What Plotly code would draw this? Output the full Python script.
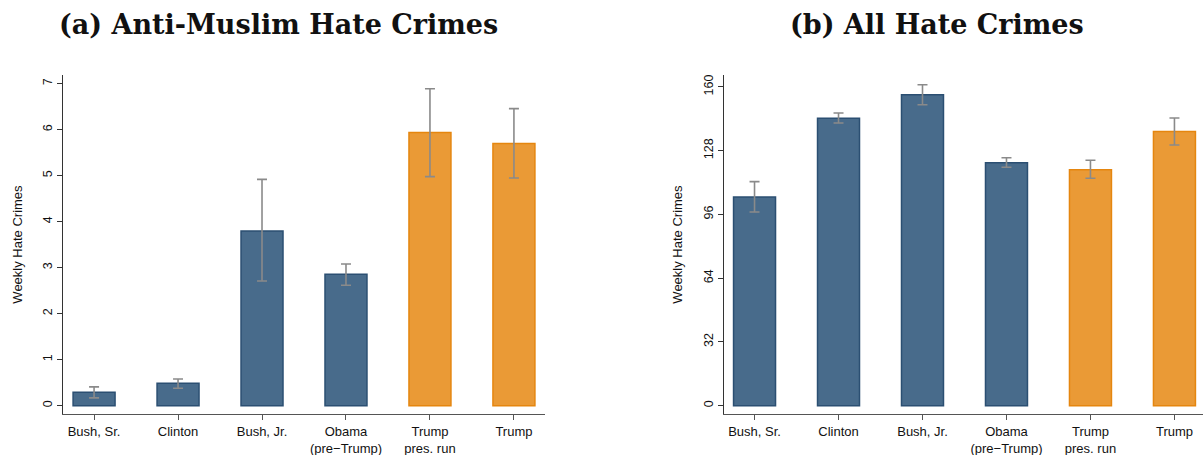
import plotly.graph_objects as go

# Presidency periods shown on the x axis
periods = ["Bush, Sr.", "Clinton", "Bush, Jr.", "Obama<br>(pre\u2212Trump)", "Trump<br>pres. run", "Trump"]
trump_era = [False, False, False, False, True, True]

# (a) Anti-Muslim hate crimes: weekly mean with confidence bounds
muslim_mean = [0.29, 0.49, 3.80, 2.86, 5.94, 5.70]
muslim_upper = [0.41, 0.58, 4.92, 3.08, 6.89, 6.46]
muslim_lower = [0.17, 0.38, 2.71, 2.62, 4.98, 4.95]

# (b) All hate crimes: weekly mean with confidence bounds
all_mean = [104.8, 144.3, 156.1, 122.0, 118.5, 137.6]
all_upper = [112.5, 146.9, 161.1, 124.5, 123.2, 144.4]
all_lower = [97.2, 141.9, 151.1, 119.7, 114.2, 130.9]

# Tick values for the two y axes
muslim_ticks = [0, 1, 2, 3, 4, 5, 6, 7]
all_ticks = [0, 32, 64, 96, 128, 160]

BLUE_FILL, BLUE_LINE = "#486b8b", "#2b4f72"
ORANGE_FILL, ORANGE_LINE = "#ea9a36", "#e5860f"
fills = [ORANGE_FILL if t else BLUE_FILL for t in trump_era]
lines = [ORANGE_LINE if t else BLUE_LINE for t in trump_era]

W, H = 1203, 455
FONT = "Liberation Sans, Arial, sans-serif"


def bar_trace(mean, upper, lower, xa, ya):
    return go.Bar(
        x=list(range(len(periods))),
        y=mean,
        width=0.5,
        marker=dict(color=fills, line=dict(color=lines, width=1.5)),
        error_y=dict(
            type="data",
            symmetric=False,
            array=[u - m for u, m in zip(upper, mean)],
            arrayminus=[m - l for m, l in zip(mean, lower)],
            color="#8a8a8a",
            thickness=1.6,
            width=5,
        ),
        xaxis=xa,
        yaxis=ya,
        showlegend=False,
    )


fig = go.Figure()
fig.add_trace(bar_trace(muslim_mean, muslim_upper, muslim_lower, "x", "y"))
fig.add_trace(bar_trace(all_mean, all_upper, all_lower, "x2", "y2"))

y_dom = [(H - 414.3) / H, (H - 75) / H]

xcommon = dict(
    tickmode="array",
    tickvals=list(range(len(periods))),
    ticktext=periods,
    showline=True,
    linecolor="#555555",
    linewidth=1,
    ticks="outside",
    ticklen=5,
    tickcolor="#555555",
    showgrid=False,
    zeroline=False,
    tickfont=dict(family=FONT, size=13, color="#111111"),
)
ycommon = dict(
    showline=True,
    linecolor="#333333",
    linewidth=1,
    ticks="outside",
    ticklen=5,
    tickcolor="#333333",
    showgrid=False,
    zeroline=False,
    tickangle=-90,
    tickfont=dict(family=FONT, size=12.5, color="#111111"),
    domain=y_dom,
)

fig.update_layout(
    width=W,
    height=H,
    margin=dict(l=0, r=0, t=0, b=0),
    paper_bgcolor="white",
    plot_bgcolor="white",
    xaxis=dict(xcommon, domain=[63 / W, 545 / W], range=[-0.37, 5.37], anchor="y"),
    yaxis=dict(ycommon, range=[-0.187, 7.19], tickvals=muslim_ticks, anchor="x"),
    xaxis2=dict(xcommon, domain=[724.3 / W, 1.0], range=[-0.36, 5.34], anchor="y2"),
    yaxis2=dict(ycommon, range=[-4.3, 166.0], tickvals=all_ticks, anchor="x2"),
)

title_font = dict(family="DejaVu Serif, serif", size=27, color="#111111")
fig.add_annotation(text="<b>(a) Anti-Muslim Hate Crimes</b>", x=278 / W, y=1 - 24 / H,
                   xref="paper", yref="paper", showarrow=False, font=title_font,
                   xanchor="center", yanchor="middle")
fig.add_annotation(text="<b>(b) All Hate Crimes</b>", x=937 / W, y=1 - 24 / H,
                   xref="paper", yref="paper", showarrow=False, font=title_font,
                   xanchor="center", yanchor="middle")

ytitle_font = dict(family=FONT, size=13, color="#111111")
for xpix in (18, 678):
    fig.add_annotation(text="Weekly Hate Crimes", x=xpix / W, y=(y_dom[0] + y_dom[1]) / 2,
                       xref="paper", yref="paper", showarrow=False, textangle=-90,
                       font=ytitle_font, xanchor="center", yanchor="middle")

fig.write_html("out.html")
